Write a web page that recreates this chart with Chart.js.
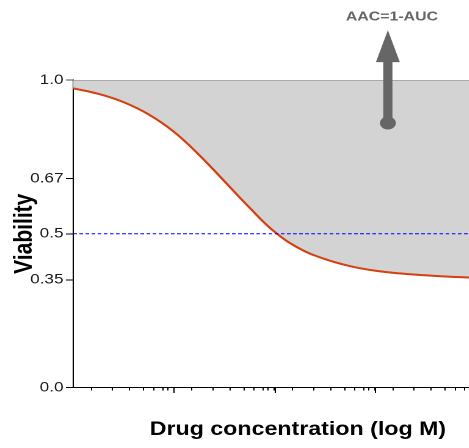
<!DOCTYPE html>
<html><head><meta charset="utf-8">
<script src="https://cdn.jsdelivr.net/npm/chart.js@4"></script>
<style>
html,body{margin:0;padding:0;background:#fff;width:469px;height:448px;overflow:hidden;}
#c{display:block;}
</style></head><body>
<canvas id="c" width="430" height="448" style="width:524.6px;height:448px"></canvas>
<script>
// ---- data (x in decades of log concentration from the left edge) ----
const concentration = [0, 0.25, 0.5, 0.75, 1.0, 1.25, 1.5, 1.75, 2.0, 2.25, 2.5, 2.75, 3.0, 3.25, 3.5, 3.75, 4.0, 4.25, 4.5];
const viability     = [0.973, 0.955, 0.928, 0.888, 0.832, 0.757, 0.672, 0.586, 0.507, 0.452, 0.418, 0.395, 0.380, 0.371, 0.365, 0.360, 0.357, 0.355, 0.353];
const xRange = [0, 4.47];
const yTickValues = [0, 0.35, 0.5, 0.68, 1.0];
const yTickLabels = ['0.0', '0.35', '0.5', '0.67', '1.0'];
const majorTicks = [1, 2, 3, 4];
const minorFractions = [0.18, 0.39, 0.56, 0.70, 0.80, 0.89, 0.94];
const halfLineY = [0.5, 0.5];
const topLineY = [1.0, 1.0];
const arrowX = 3.13, arrowFrom = 0.86, arrowTo = 1.162;
const labelX = 3.17, labelY = 1.205, labelText = 'AAC=1-AUC';
const xTitle = 'Drug concentration (log M)';
const yTitle = 'Viability';

const FONT = '"Liberation Sans", Arial, Helvetica, sans-serif';
const xTickValues = [];
for (let d = 0; d <= 4; d++) {
  minorFractions.forEach(f => { if (d + f <= xRange[1]) xTickValues.push(d + f); });
  if (d >= 1) xTickValues.push(d);
}
xTickValues.sort((a, b) => a - b);

const annotate = {
  id: 'annotate',
  afterDraw(chart) {
    const xs = chart.scales.x, ys = chart.scales.y, ctx = chart.ctx;
    ctx.save();
    // longer major ticks
    ctx.strokeStyle = '#000'; ctx.lineWidth = 1;
    majorTicks.forEach(v => {
      const px = Math.round(xs.getPixelForValue(v)) + 0.5;
      ctx.beginPath(); ctx.moveTo(px, xs.top); ctx.lineTo(px, xs.top + 5.5); ctx.stroke();
    });
    // arrow
    const ax = xs.getPixelForValue(arrowX);
    const yDot = ys.getPixelForValue(arrowFrom), yTip = ys.getPixelForValue(arrowTo);
    const headLen = 32, headHalf = 9.8;
    ctx.strokeStyle = '#666'; ctx.fillStyle = '#666';
    ctx.lineWidth = 7.5;
    ctx.beginPath(); ctx.moveTo(ax, yDot); ctx.lineTo(ax, yTip + headLen - 1); ctx.stroke();
    ctx.beginPath(); ctx.moveTo(ax, yTip); ctx.lineTo(ax - headHalf, yTip + headLen); ctx.lineTo(ax + headHalf, yTip + headLen); ctx.closePath(); ctx.fill();
    ctx.beginPath(); ctx.arc(ax, yDot, 6.5, 0, Math.PI * 2); ctx.fill();
    ctx.font = 'bold 13px ' + FONT;
    ctx.textAlign = 'center'; ctx.textBaseline = 'middle';
    ctx.fillText(labelText, xs.getPixelForValue(labelX), ys.getPixelForValue(labelY));
    ctx.restore();
  }
};

new Chart(document.getElementById('c'), {
  type: 'line',
  data: {
    datasets: [
      { data: xRange.map((x, i) => ({x, y: halfLineY[i]})), borderColor: '#0000ff', borderWidth: 1, borderDash: [3, 2], pointRadius: 0, fill: false },
      { data: xRange.map((x, i) => ({x, y: topLineY[i]})), borderColor: '#aaaaaa', borderWidth: 2, pointRadius: 0, fill: false },
      { data: concentration.map((x, i) => ({x, y: viability[i]})), borderColor: '#d4400f', borderWidth: 2, pointRadius: 0,
        tension: 0.4, fill: {value: 1.0}, backgroundColor: '#d3d3d3' }
    ]
  },
  options: {
    responsive: false,
    devicePixelRatio: 2,
    animation: false,
    layout: { padding: { top: 80, right: 2, left: 0, bottom: 0 } },
    plugins: { legend: { display: false }, tooltip: { enabled: false } },
    scales: {
      x: {
        type: 'linear', min: xRange[0], max: xRange[1],
        afterBuildTicks(s) { s.ticks = xTickValues.map(v => ({value: v})); },
        afterFit(s) { s.height = 60.5; },
        ticks: { display: false },
        grid: { display: true, drawOnChartArea: false, drawTicks: true, tickLength: 3, tickColor: '#000', tickWidth: 1 },
        border: { display: true, color: '#000', width: 1 },
        title: { display: true, text: xTitle, color: '#000', font: { family: FONT, size: 19, weight: 'bold' }, padding: { top: 0, bottom: 7 } }
      },
      y: {
        type: 'linear', min: 0, max: 1,
        afterBuildTicks(s) { s.ticks = yTickValues.map(v => ({value: v})); },
        afterFit(s) { s.width = 60; },
        ticks: { color: '#1a1a1a', padding: 2, font: { family: FONT, size: 14 },
          callback: (v) => { const i = yTickValues.indexOf(v); return i >= 0 ? yTickLabels[i] : ''; } },
        grid: { display: true, drawOnChartArea: false, drawTicks: true, tickLength: 6,
          tickColor: (c) => (c.tick && c.tick.value === 1) ? '#aaaaaa' : '#000', tickWidth: (c) => (c.tick && c.tick.value === 1) ? 2 : 1 },
        border: { display: true, color: '#000', width: 1 },
        title: { display: true, text: yTitle, color: '#000', font: { family: FONT, size: 21, weight: 'bold' }, padding: { top: 7.5, bottom: 0 } }
      }
    }
  },
  plugins: [annotate]
});
</script>
</body></html>
